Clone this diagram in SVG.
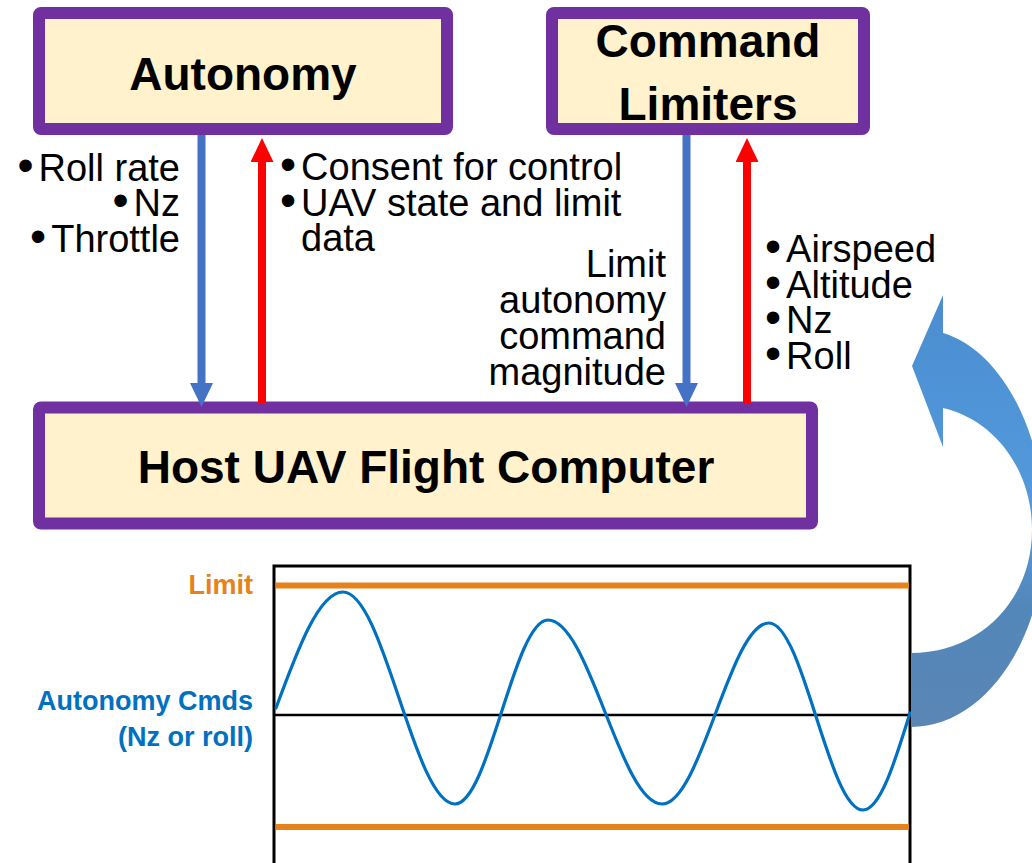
<svg xmlns="http://www.w3.org/2000/svg" width="1032" height="863" viewBox="0 0 1032 863">
  <defs>
    <style>
      .box { fill: #FFF2CC; stroke: #7030A0; stroke-width: 12; }
      .title { font-family: "Liberation Sans", Arial, sans-serif; font-weight: bold; font-size: 46px; fill: #000; text-anchor: middle; }
      .lbl { font-family: "Liberation Sans", Arial, sans-serif; font-size: 38px; fill: #000; }
      .bul { font-size: 46px; }
      .end { text-anchor: end; }
      .down { stroke: #4472C4; stroke-width: 8; fill: none; marker-end: url(#headBlue); }
      .up { stroke: #FF0000; stroke-width: 8; fill: none; marker-end: url(#headRed); }
      .frame { stroke: #000; stroke-width: 3; fill: none; }
      .axis { stroke: #000; stroke-width: 2.5; }
      .limit { stroke: #E6821A; stroke-width: 6; }
      .wave { stroke: #0070C0; stroke-width: 3.2; fill: none; stroke-linecap: round; }
      .chartLbl { font-family: "Liberation Sans", Arial, sans-serif; font-weight: bold; font-size: 27px; text-anchor: end; }
    </style>
    <marker id="headBlue" markerUnits="userSpaceOnUse" markerWidth="24" markerHeight="24" viewBox="0 0 24 24" refX="0" refY="11.5" orient="auto">
      <path d="M0,0 L24,11.5 L0,23 Z" fill="#4472C4"/>
    </marker>
    <marker id="headRed" markerUnits="userSpaceOnUse" markerWidth="24" markerHeight="24" viewBox="0 0 24 24" refX="0" refY="11.5" orient="auto">
      <path d="M0,0 L24,11.5 L0,23 Z" fill="#FF0000"/>
    </marker>
    <linearGradient id="loopFill" x1="0" y1="295" x2="0" y2="727" gradientUnits="userSpaceOnUse">
      <stop offset="0" stop-color="#4A8ED0"/>
      <stop offset="0.5" stop-color="#549ADB"/>
      <stop offset="0.72" stop-color="#5387BA"/>
      <stop offset="1" stop-color="#5A86B4"/>
    </linearGradient>
  </defs>

  <rect width="1032" height="863" fill="#FFFFFF"/>

  <!-- blocks -->
  <g id="autonomy">
    <rect class="box" x="39" y="13" width="408" height="116" rx="2"/>
    <text class="title" x="243" y="90">Autonomy</text>
  </g>

  <g id="command-limiters">
    <rect class="box" x="552" y="13" width="312" height="116" rx="2"/>
    <text class="title" x="708" y="57">Command</text>
    <text class="title" x="708" y="120">Limiters</text>
  </g>

  <g id="host-fc">
    <rect class="box" x="39" y="407.5" width="773" height="116" rx="2"/>
    <text class="title" x="426" y="483">Host UAV Flight Computer</text>
  </g>

  <!-- signal flows between blocks -->
  <g id="connectors">
    <line class="down" x1="201.5" y1="135" x2="201.5" y2="383"/>
    <line class="up" x1="262" y1="403" x2="262" y2="162"/>
    <line class="down" x1="686.5" y1="135" x2="686.5" y2="383"/>
    <line class="up" x1="747" y1="403" x2="747" y2="162"/>
  </g>

  <!-- flow labels -->
  <g id="autonomy-cmds-label">
    <text class="lbl end" x="180" y="181"><tspan class="bul">•</tspan><tspan dx="5">Roll rate</tspan></text>
    <text class="lbl end" x="180" y="216"><tspan class="bul">•</tspan><tspan dx="5">Nz</tspan></text>
    <text class="lbl end" x="180" y="251.5"><tspan class="bul">•</tspan><tspan dx="5">Throttle</tspan></text>
  </g>

  <g id="consent-label">
    <text class="lbl" x="280" y="180"><tspan class="bul">•</tspan><tspan dx="5">Consent for control</tspan></text>
    <text class="lbl" x="280" y="215.5"><tspan class="bul">•</tspan><tspan dx="5">UAV state and limit</tspan></text>
    <text class="lbl" x="301" y="251">data</text>
  </g>

  <g id="limit-label">
    <text class="lbl end" x="666" y="277">Limit</text>
    <text class="lbl end" x="666" y="313">autonomy</text>
    <text class="lbl end" x="666" y="349">command</text>
    <text class="lbl end" x="666" y="385">magnitude</text>
  </g>

  <g id="state-label">
    <text class="lbl" x="765" y="262"><tspan class="bul">•</tspan><tspan dx="5">Airspeed</tspan></text>
    <text class="lbl" x="765" y="298"><tspan class="bul">•</tspan><tspan dx="5">Altitude</tspan></text>
    <text class="lbl" x="765" y="333"><tspan class="bul">•</tspan><tspan dx="5">Nz</tspan></text>
    <text class="lbl" x="765" y="369"><tspan class="bul">•</tspan><tspan dx="5">Roll</tspan></text>
  </g>

  <!-- command history plot -->
  <g id="chart">
    <path class="frame" d="M274,866 L274,566 L910,566 L910,866"/>
    <line class="axis" x1="274" y1="715" x2="910" y2="715"/>
    <line class="limit" x1="276" y1="585.5" x2="909" y2="585.5"/>
    <line class="limit" x1="276" y1="827" x2="909" y2="827"/>
    <path class="wave" d="M276,708
      C297.8,648.6 319,592 343,592
      C383.8,592 414.2,804 455,804
      C488.9,804 514.1,620 548,620
      C589.5,620 620.5,804 662,804
      C701,804 730,623 769,623
      C803.2,623 828.8,810 863,810
      C879.9,810 894.7,762.7 910,713"/>
    <text class="chartLbl" x="253" y="594" fill="#E6821A" font-size="26.5">Limit</text>
    <text class="chartLbl" x="253" y="710" fill="#0070C0">Autonomy Cmds</text>
    <text class="chartLbl" x="253" y="746" fill="#0070C0">(Nz or roll)</text>
  </g>

  <!-- feedback loop arrow -->
  <g id="loop-arrow">
    <path fill="url(#loopFill)" d="M911,727 C985,727 1045,640 1045,530 C1045,430 1000,350 943,333 L943,295 L912,366 L943,447 L943,408 C995,420 1032,470 1032,530 C1032,600 980,653 911,653 Z"/>
  </g>
</svg>
